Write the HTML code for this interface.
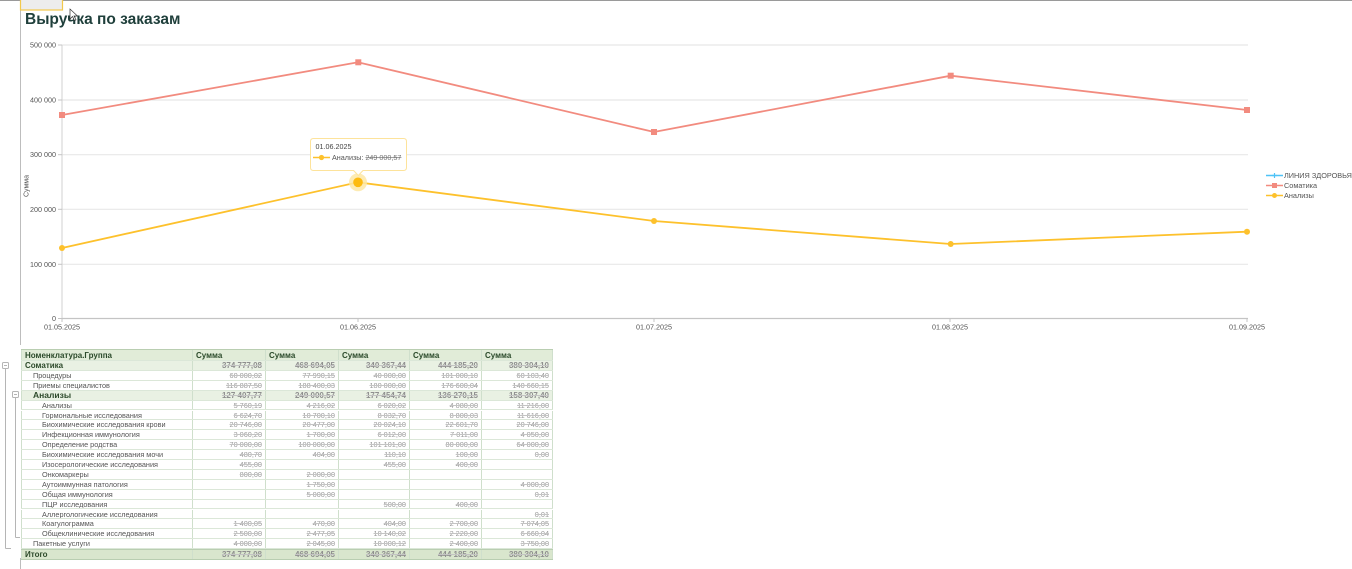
<!DOCTYPE html>
<html><head><meta charset="utf-8">
<style>
html,body{margin:0;padding:0;background:#fff;}
#p{position:relative;width:1352px;height:569px;overflow:hidden;background:#fff;font-family:"Liberation Sans","DejaVu Sans",sans-serif;}
svg{position:absolute;left:0;top:0;}
.r{position:absolute;left:21px;width:532px;height:9.9px;display:flex;box-sizing:border-box;border-bottom:1px solid #dbe7d8;}
.r div{box-sizing:border-box;height:100%;border-right:1px solid #cfdfcc;font-size:7.3px;line-height:9px;white-space:nowrap;overflow:hidden;color:#555;}
.r .n{width:172px;padding-left:3px;border-left:1px solid #cfdfcc;}
.r .v{text-align:right;padding-right:3px;color:#9a9a9a;text-decoration:line-through;text-decoration-color:#c4c4c4;}
.w1{width:73px}.w2{width:73px}.w3{width:71px}.w4{width:72px}.w5{width:71px}
.g{background:#e9f1e3;}
.g div{font-weight:bold;font-size:8px;color:#2d4a2b;}
.g .v{color:#8f8f8f;}
.h{background:#e1ecd8;border-top:1px solid #b9ceb1;}
.h div{font-weight:bold;font-size:8px;color:#2b4a2a;line-height:11px;}
.t{background:#d9e6cd;border-top:1px solid #b9ceb1;border-bottom:1px solid #b9ceb1;}
.t div{font-weight:bold;font-size:8px;color:#2d4a2b;}
.t .v{color:#8f8f8f;}
.i1{padding-left:11px !important}
.i2{padding-left:20px !important}
</style></head><body>
<div id="p">
<svg width="1352" height="569" viewBox="0 0 1352 569" xmlns="http://www.w3.org/2000/svg" font-family="Liberation Sans, sans-serif">
 <line x1="0" y1="0.5" x2="1352" y2="0.5" stroke="#9a9a9a" stroke-width="1"/>
 <line x1="20.5" y1="0" x2="20.5" y2="345" stroke="#bdbdbd" stroke-width="1"/>
 <line x1="20.5" y1="558" x2="20.5" y2="569" stroke="#bdbdbd" stroke-width="1"/>
 <rect x="20.5" y="-1" width="42" height="11" fill="#ededed" stroke="#f2c94c" stroke-width="1.2"/>
 <text x="25" y="24" font-size="15.5" font-weight="bold" fill="#1f3f3b">Выручка по заказам</text>
 <path d="M70 9 L70 19 L72.5 16.5 L74.5 20.5 L76 19.8 L74 16 L77.5 16 Z" fill="#fff" stroke="#333" stroke-width="0.7"/>
 <!-- grid -->
 <g stroke="#e8e8e8" stroke-width="1.2">
  <line x1="62" y1="45" x2="1248" y2="45"/>
  <line x1="62" y1="100" x2="1248" y2="100"/>
  <line x1="62" y1="154.7" x2="1248" y2="154.7"/>
  <line x1="62" y1="209.3" x2="1248" y2="209.3"/>
  <line x1="62" y1="264.3" x2="1248" y2="264.3"/>
 </g>
 <line x1="62" y1="318.5" x2="1248" y2="318.5" stroke="#c4c4c4" stroke-width="1.2"/>
 <line x1="62" y1="45" x2="62" y2="318.5" stroke="#d0d0d0" stroke-width="1"/>
 <g stroke="#c4c4c4" stroke-width="1">
  <line x1="58" y1="45" x2="62" y2="45"/><line x1="58" y1="100" x2="62" y2="100"/><line x1="58" y1="154.7" x2="62" y2="154.7"/>
  <line x1="58" y1="209.3" x2="62" y2="209.3"/><line x1="58" y1="264.3" x2="62" y2="264.3"/><line x1="58" y1="318.5" x2="62" y2="318.5"/>
  <line x1="62" y1="318" x2="62" y2="322"/><line x1="358" y1="318" x2="358" y2="322"/><line x1="654" y1="318" x2="654" y2="322"/>
  <line x1="950" y1="318" x2="950" y2="322"/><line x1="1247" y1="318" x2="1247" y2="322"/>
 </g>
 <g font-size="7.2" fill="#555" text-anchor="end">
  <text x="56" y="47.5">500 000</text>
  <text x="56" y="102.5">400 000</text>
  <text x="56" y="157.2">300 000</text>
  <text x="56" y="211.8">200 000</text>
  <text x="56" y="266.8">100 000</text>
  <text x="56" y="321">0</text>
 </g>
 <g font-size="7.2" fill="#555" text-anchor="middle">
  <text x="62" y="329.3">01.05.2025</text>
  <text x="358" y="329.3">01.06.2025</text>
  <text x="654" y="329.3">01.07.2025</text>
  <text x="950" y="329.3">01.08.2025</text>
  <text x="1247" y="329.3">01.09.2025</text>
 </g>
 <text x="0" y="0" font-size="7" fill="#555" text-anchor="middle" transform="translate(28.5 186) rotate(-90)">Сумма</text>
 <!-- Somatika -->
 <polyline points="62,115 358,62.3 654,132 950.7,75.7 1247,110" fill="none" stroke="#f28b7f" stroke-width="1.8"/>
 <g fill="#f28b7f">
  <rect x="59" y="112" width="6" height="6"/><rect x="355.3" y="59.3" width="6" height="6"/>
  <rect x="651" y="129" width="6" height="6"/><rect x="947.7" y="72.7" width="6" height="6"/>
  <rect x="1244" y="107" width="6" height="6"/>
 </g>
 <!-- Analyses -->
 <polyline points="62,248 358,182.3 654,221 950.7,244 1247,231.7" fill="none" stroke="#fdc12c" stroke-width="1.8"/>
 <g fill="#fdc12c">
  <circle cx="62" cy="248" r="3"/><circle cx="654" cy="221" r="3"/><circle cx="950.7" cy="244" r="3"/><circle cx="1247" cy="231.7" r="3"/>
 </g>
 <circle cx="358" cy="182.3" r="9" fill="#fde7a6" opacity="0.85"/>
 <circle cx="358" cy="182.3" r="4.8" fill="#fdbb10"/>
 <!-- tooltip -->
 <path d="M313.5 138.5 H403.5 Q406.5 138.5 406.5 141.5 V167.5 Q406.5 170.5 403.5 170.5 H363 L358.3 175.5 L353.6 170.5 H313.5 Q310.5 170.5 310.5 167.5 V141.5 Q310.5 138.5 313.5 138.5 Z" fill="#fff" stroke="#fde39b" stroke-width="1"/>
 <text x="315.5" y="149" font-size="7.2" fill="#444">01.06.2025</text>
 <line x1="313" y1="157.5" x2="330" y2="157.5" stroke="#fdc12c" stroke-width="1.5"/>
 <circle cx="321.5" cy="157.5" r="2.6" fill="#fdc12c"/>
 <text x="332" y="160" font-size="7.2" fill="#555">Анализы: <tspan fill="#777" text-decoration="line-through">249 000,57</tspan></text>
 <!-- legend -->
 <line x1="1266" y1="175.5" x2="1283" y2="175.5" stroke="#4fc3f7" stroke-width="1.5"/>
 <path d="M1274.5 173 V178 M1272 175.5 H1277" stroke="#4fc3f7" stroke-width="1.2"/>
 <line x1="1266" y1="185.5" x2="1283" y2="185.5" stroke="#f28b7f" stroke-width="1.5"/>
 <rect x="1272" y="183" width="5" height="5" fill="#f28b7f"/>
 <line x1="1266" y1="195.5" x2="1283" y2="195.5" stroke="#fdc12c" stroke-width="1.5"/>
 <circle cx="1274.5" cy="195.5" r="2.5" fill="#fdc12c"/>
 <g font-size="7.3" fill="#555">
  <text x="1284" y="178">ЛИНИЯ ЗДОРОВЬЯ</text>
  <text x="1284" y="188">Соматика</text>
  <text x="1284" y="198">Анализы</text>
 </g>
 <!-- tree lines -->
 <g stroke="#b5b5b5" stroke-width="1" fill="#fff">
  <line x1="5.5" y1="369" x2="5.5" y2="548.5"/>
  <line x1="5.5" y1="548.5" x2="11" y2="548.5"/>
  <line x1="15.5" y1="398" x2="15.5" y2="537.5"/>
  <line x1="15.5" y1="537.5" x2="20" y2="537.5"/>
  <rect x="2.5" y="362.5" width="6" height="6" rx="1"/>
  <rect x="12.5" y="391.5" width="6" height="6" rx="1"/>
  <line x1="4" y1="365.5" x2="7" y2="365.5"/>
  <line x1="14" y1="394.5" x2="17" y2="394.5"/>
 </g>
</svg>

<div class="r h" style="top:349px;height:12px;"><div class="n">Номенклатура.Группа</div><div class="w1" style="padding-left:3px">Сумма</div><div class="w2" style="padding-left:3px">Сумма</div><div class="w3" style="padding-left:3px">Сумма</div><div class="w4" style="padding-left:3px">Сумма</div><div class="w5" style="padding-left:3px">Сумма</div></div>
<div class="r g" style="top:361px;"><div class="n">Соматика</div><div class="v w1">374 777,08</div><div class="v w2">468 694,05</div><div class="v w3">340 367,44</div><div class="v w4">444 185,20</div><div class="v w5">380 304,10</div></div>
<div class="r" style="top:370.9px;"><div class="n i1">Процедуры</div><div class="v w1">60 000,02</div><div class="v w2">77 990,15</div><div class="v w3">40 000,00</div><div class="v w4">101 000,10</div><div class="v w5">60 103,40</div></div>
<div class="r" style="top:380.8px;"><div class="n i1">Приемы специалистов</div><div class="v w1">116 887,50</div><div class="v w2">188 400,03</div><div class="v w3">180 000,00</div><div class="v w4">176 600,04</div><div class="v w5">140 660,15</div></div>
<div class="r g" style="top:390.7px;"><div class="n i1" style="font-size:8.5px">Анализы</div><div class="v w1">127 407,77</div><div class="v w2">249 000,57</div><div class="v w3">177 454,74</div><div class="v w4">136 270,15</div><div class="v w5">158 307,40</div></div>
<div class="r" style="top:400.6px;"><div class="n i2">Анализы</div><div class="v w1">5 760,19</div><div class="v w2">4 216,02</div><div class="v w3">6 020,02</div><div class="v w4">4 080,00</div><div class="v w5">11 216,00</div></div>
<div class="r" style="top:410.5px;"><div class="n i2">Гормональные исследования</div><div class="v w1">6 624,70</div><div class="v w2">10 700,10</div><div class="v w3">8 032,70</div><div class="v w4">8 800,03</div><div class="v w5">11 616,00</div></div>
<div class="r" style="top:420.4px;"><div class="n i2">Биохимические исследования крови</div><div class="v w1">20 746,00</div><div class="v w2">20 477,00</div><div class="v w3">20 024,10</div><div class="v w4">22 601,70</div><div class="v w5">20 746,00</div></div>
<div class="r" style="top:430.3px;"><div class="n i2">Инфекционная иммунология</div><div class="v w1">3 060,20</div><div class="v w2">1 700,00</div><div class="v w3">6 012,00</div><div class="v w4">7 011,00</div><div class="v w5">4 050,00</div></div>
<div class="r" style="top:440.2px;"><div class="n i2">Определение родства</div><div class="v w1">70 000,00</div><div class="v w2">100 000,00</div><div class="v w3">101 101,00</div><div class="v w4">80 000,00</div><div class="v w5">64 000,00</div></div>
<div class="r" style="top:450.1px;"><div class="n i2">Биохимические исследования мочи</div><div class="v w1">480,70</div><div class="v w2">404,00</div><div class="v w3">110,10</div><div class="v w4">100,00</div><div class="v w5">0,00</div></div>
<div class="r" style="top:460px;"><div class="n i2">Изосерологические исследования</div><div class="v w1">455,00</div><div class="v w2"></div><div class="v w3">455,00</div><div class="v w4">400,00</div><div class="v w5"></div></div>
<div class="r" style="top:469.9px;"><div class="n i2">Онкомаркеры</div><div class="v w1">800,00</div><div class="v w2">2 000,00</div><div class="v w3"></div><div class="v w4"></div><div class="v w5"></div></div>
<div class="r" style="top:479.8px;"><div class="n i2">Аутоиммунная патология</div><div class="v w1"></div><div class="v w2">1 750,00</div><div class="v w3"></div><div class="v w4"></div><div class="v w5">4 000,00</div></div>
<div class="r" style="top:489.7px;"><div class="n i2">Общая иммунология</div><div class="v w1"></div><div class="v w2">5 000,00</div><div class="v w3"></div><div class="v w4"></div><div class="v w5">0,01</div></div>
<div class="r" style="top:499.6px;"><div class="n i2">ПЦР исследования</div><div class="v w1"></div><div class="v w2"></div><div class="v w3">500,00</div><div class="v w4">400,00</div><div class="v w5"></div></div>
<div class="r" style="top:509.5px;"><div class="n i2">Аллергологические исследования</div><div class="v w1"></div><div class="v w2"></div><div class="v w3"></div><div class="v w4"></div><div class="v w5">0,01</div></div>
<div class="r" style="top:519.4px;"><div class="n i2">Коагулограмма</div><div class="v w1">1 400,05</div><div class="v w2">470,00</div><div class="v w3">404,00</div><div class="v w4">2 700,00</div><div class="v w5">7 074,05</div></div>
<div class="r" style="top:529.3px;"><div class="n i2">Общеклинические исследования</div><div class="v w1">2 500,00</div><div class="v w2">2 477,05</div><div class="v w3">10 140,02</div><div class="v w4">2 220,00</div><div class="v w5">6 660,04</div></div>
<div class="r" style="top:539.2px;"><div class="n i1">Пакетные услуги</div><div class="v w1">4 000,00</div><div class="v w2">2 045,00</div><div class="v w3">10 000,12</div><div class="v w4">2 400,00</div><div class="v w5">3 750,00</div></div>
<div class="r t" style="top:549.1px;height:10.5px;"><div class="n">Итого</div><div class="v w1">374 777,08</div><div class="v w2">468 694,05</div><div class="v w3">340 367,44</div><div class="v w4">444 185,20</div><div class="v w5">380 304,10</div></div>
</div>
</body></html>
